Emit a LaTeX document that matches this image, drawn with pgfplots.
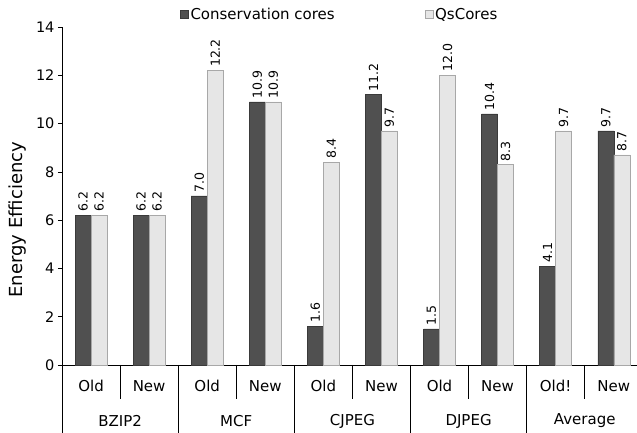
\documentclass[border=0pt]{standalone}
\usepackage{pgfplots}
\pgfplotsset{compat=1.18}
\usepackage{fontspec}
\setmainfont{DejaVu Sans}
\definecolor{darkfill}{HTML}{505050}
\definecolor{darkedge}{HTML}{3A3A3A}
\definecolor{lightfill}{HTML}{E6E6E6}
\definecolor{lightedge}{HTML}{A8A8A8}
\begin{document}
\begin{tikzpicture}
\begin{axis}[
  scale only axis, width=575pt, height=338pt,
  ymin=0, ymax=14, xmin=-0.5, xmax=9.4,
  clip=false,
  ybar=0pt, bar width=16pt,
  axis x line*=bottom, axis y line*=left,
  axis line style={black, line width=0.6pt},
  ytick={0,2,...,14}, tick align=outside, major tick length=4pt,
  y tick style={black, line width=0.6pt},
  xtick={0,...,9},
  xticklabels={Old,New,Old,New,Old,New,Old,New,Old!,New},
  x tick style={draw=none},
  xticklabel style={anchor=center, yshift=-17pt, font=\fontsize{15}{17}\selectfont},
  yticklabel style={font=\fontsize{14.5}{17}\selectfont},
  /pgf/number format/assume math mode=true,
  ylabel={Energy Efficiency},
  ylabel style={at={(axis description cs:-0.077,0.43)}, anchor=center, font=\fontsize{18}{20}\selectfont},
  nodes near coords,
  point meta=y,
  nodes near coords style={/pgf/number format/fixed, /pgf/number format/fixed zerofill, /pgf/number format/precision=1},
  every node near coord/.append style={rotate=90, anchor=west, font=\fontsize{12.5}{14}\selectfont, black},
  legend style={at={(axis description cs:0.483,1)}, anchor=south, yshift=2pt, draw=none, fill=none,
    font=\fontsize{15}{17}\selectfont, legend columns=2,
    /tikz/every even column/.append style={column sep=88pt}},
  legend image code/.code={\draw[#1] (0pt,-4pt) rectangle (8pt,4pt);},
]
\addplot[fill=darkfill, draw=darkedge] coordinates {
  (0,6.2) (1,6.2) (2,7.0) (3,10.9) (4,1.6) (5,11.2) (6,1.5) (7,10.4) (8,4.1) (9,9.7)};
\addlegendentry{Conservation cores}
\addplot[fill=lightfill, draw=lightedge] coordinates {
  (0,6.2) (1,6.2) (2,12.2) (3,10.9) (4,8.4) (5,9.7) (6,12.0) (7,8.3) (8,9.7) (9,8.7)};
\addlegendentry{QsCores}
\coordinate (O) at (rel axis cs:0,0);
\pgfplotsinvokeforeach{0.5,2.5,4.5,6.5,8.5}{
  \draw[black, line width=0.6pt] (axis cs:#1,0) -- ++(0pt,-34pt);
}
\pgfplotsinvokeforeach{-0.5,1.5,3.5,5.5,7.5}{
  \draw[black, line width=0.6pt] (axis cs:#1,0) -- ++(0pt,-70pt);
}
\node[font=\fontsize{15}{17}\selectfont] at (axis cs:0.5,0) [yshift=-56pt] {BZIP2};
\node[font=\fontsize{15}{17}\selectfont] at (axis cs:2.5,0) [yshift=-56pt] {MCF};
\node[font=\fontsize{15}{17}\selectfont] at (axis cs:4.5,0) [yshift=-56pt] {CJPEG};
\node[font=\fontsize{15}{17}\selectfont] at (axis cs:6.5,0) [yshift=-56pt] {DJPEG};
\node[font=\fontsize{15}{17}\selectfont] at (axis cs:8.5,0) [yshift=-56pt] {Average};
\end{axis}
\pgfresetboundingbox
\path (O) ++(-62pt,-68pt) rectangle ++(637pt,433pt);
\end{tikzpicture}
\end{document}
